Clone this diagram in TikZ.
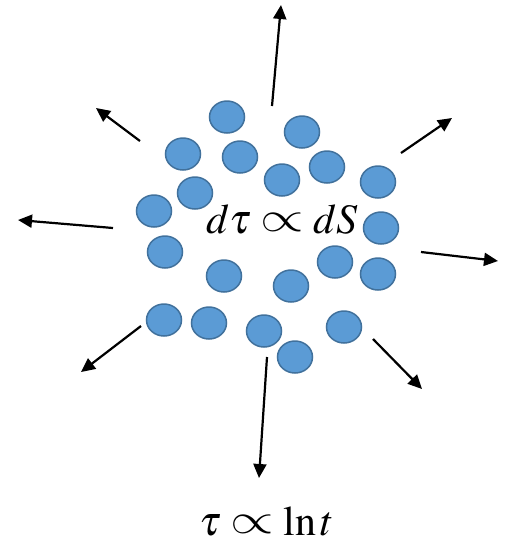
\documentclass[tikz,border=0pt]{standalone}
\usepackage{mathptmx}
\usepackage{graphicx}
\usetikzlibrary{arrows.meta,shapes.geometric}
\definecolor{ballfill}{RGB}{91,155,213}
\definecolor{balldraw}{RGB}{65,113,156}
\newcommand{\thinprop}{\mathrel{\vcenter{\hbox{\scalebox{2.25}[1.7]{\usefont{OMS}{cmsy}{m}{n}\char"2F}}}}}

\begin{document}
\begin{tikzpicture}[x=1pt,y=-1pt]
	\tikzset{ball/.style={ellipse,draw=balldraw,fill=ballfill,line width=1.5pt,minimum width=35pt,minimum height=32pt,inner sep=0pt}}
	\tikzset{flow/.style={line width=2.2pt,-{Triangle[length=14pt,width=13pt]}}}
	\tikzset{formula/.style={anchor=base,inner sep=0pt,font=\fontsize{42}{46}\selectfont}}

	\useasboundingbox (0,0) rectangle (516,550);

	% particles
	\foreach \name/\x/\y in {b1/227/117, b2/302/132, b3/183/154, b4/240/157,
	                         b5/327/167, b6/282/180, b7/378/182, b8/195/193,
	                         b9/154/211, b10/381/228, b11/165/252, b12/224/276,
	                         b13/335/262, b14/291/286, b15/378/274, b16/164/320,
	                         b17/209/323, b18/264/331, b19/344/327, b20/295/357}
	    \node[ball] (\name) at (\x,\y) {};

	\node[formula] (entropy) at (282,233) {$d\tau \thinprop dS$};
	\node[formula] (clock) at (267,535) {$\tau \thinprop \ln t$};

	% outward flow
	\foreach \name/\ax/\ay/\bx/\by in {n/272/106/281/5, nw/140/141/96/108,
	                                   ne/401/153/452/118, w/113/228/18/220,
	                                   e/421/252/498/261, sw/141/326/81/372,
	                                   se/373/339/422/389, s/267/357/259/478}
	{
	    \coordinate (\name-from) at (\ax,\ay);
	    \coordinate (\name-to) at (\bx,\by);
	    \draw[flow] (\name-from) -- (\name-to);
	}

\end{tikzpicture}
\end{document}
